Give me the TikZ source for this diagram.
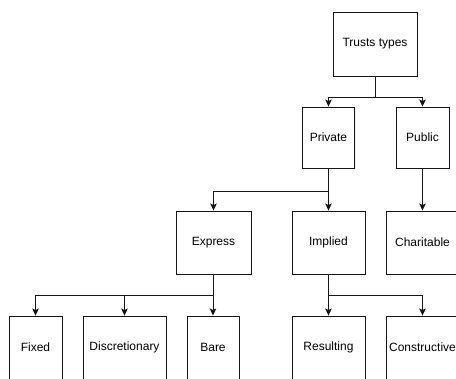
\documentclass[tikz,border=0pt]{standalone}
\usepackage{fontspec}
\setmainfont{Liberation Sans}
\usepackage{xcolor}
\usepackage{tikz}
\usetikzlibrary{positioning,calc,arrows.meta,shadows}
\definecolor{BoxLine}{RGB}{20,20,20}
\tikzset{
    typebox/.style={rectangle, draw=BoxLine, fill=white, line width=0.9pt, inner sep=1pt,
        font=\fontsize{12}{14}\selectfont,
        drop shadow={shadow xshift=1.2pt, shadow yshift=-1.2pt, opacity=0.12}},
    conn/.style={draw=BoxLine, line width=0.9pt, -{Stealth[length=7pt, width=6.5pt, inset=1.5pt]}}
}
\begin{document}
\begin{tikzpicture}[
        x=1pt, y=-1pt,
        % Kích thước các hộp
        wide/.style={typebox, minimum width=84pt, minimum height=64pt},
        narrow/.style={typebox, minimum width=52pt, minimum height=61pt},
        mid/.style={typebox, minimum width=74pt, minimum height=63pt}
    ]
        % --- KHUNG ẢNH ---
        \useasboundingbox (0,0) rectangle (456,379);

        % --- CÁC NÚT ---
        % Gốc
        \node[wide] (trusts) at (375,44) {Trusts types};
        % Tầng 1
        \node[narrow] (private) at (328.5,137.5) {Private};
        \node[narrow, minimum width=53pt] (public) at (422.5,137.5) {Public};
        % Tầng 2
        \node[mid, minimum width=75pt] (express) at (213.5,242.5) {Express};
        \node[mid, minimum width=73pt] (implied) at (328.5,242.5) {Implied};
        \node[mid, minimum width=73pt] (charitable) at (422.5,242.5) {Charitable};
        % Tầng 3
        \node[narrow, minimum width=53pt, minimum height=63pt] (fixed) at (35.5,347.5) {Fixed};
        \node[mid, minimum width=83pt] (discretionary) at (124.5,347.5) {Discretionary};
        \node[narrow, minimum height=63pt] (bare) at (213,347.5) {Bare};
        \node[mid, minimum width=73pt] (resulting) at (328.5,347.5) {Resulting};
        \node[mid, minimum width=73pt] (constructive) at (422.5,347.5) {Constructive};

        % --- CÁC MŨI TÊN ---
        \draw[conn] (trusts.south) -- ++(0,21) -| (private.north);
        \draw[conn] (trusts.south) -- ++(0,21) -| (public.north);
        \draw[conn] (private.south) -- ++(0,23) -| (express.north);
        \draw[conn] (private.south) -- (implied.north);
        \draw[conn] (public.south) -- (charitable.north);
        \draw[conn] (express.south) -- ++(0,21) -| (fixed.north);
        \draw[conn] (express.south) -- ++(0,21) -| (discretionary.north);
        \draw[conn] (express.south) -- ++(0,21) -| (bare.north);
        \draw[conn] (implied.south) -- (resulting.north);
        \draw[conn] (implied.south) -- ++(0,21) -| (constructive.north);

    \end{tikzpicture}
\end{document}
